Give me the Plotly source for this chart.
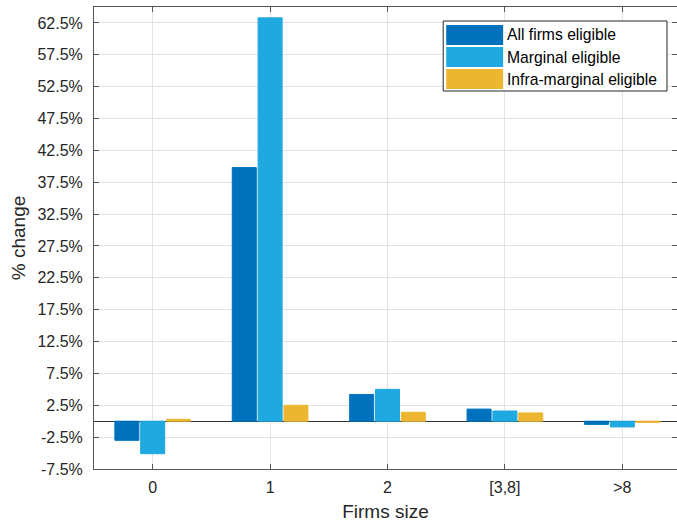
import plotly.graph_objects as go

categories = ["0", "1", "2", "[3,8]", ">8"]
all_firms = [-3.0, 39.8, 4.2, 1.9, -0.5]
marginal = [-5.1, 63.3, 5.0, 1.6, -0.9]
infra_marginal = [0.3, 2.5, 1.4, 1.3, -0.2]

series_names = ["All firms eligible", "Marginal eligible", "Infra-marginal eligible"]
colors = ["#0072BD", "#1EA9E0", "#EDB631"]

y_ticks = [-7.5 + 5 * i for i in range(15)]
y_ticktext = [f"{v:g}%" for v in y_ticks]

W, H = 677, 524
ML, MR, MT, MB = 93.5, 0, 7, 55
PW, PH = W - ML - MR, H - MT - MB


def px_x(px):
    return (px - ML) / PW


def px_y(py):
    return 1 - (py - MT) / PH


fig = go.Figure()
for name, vals, col in zip(series_names, [all_firms, marginal, infra_marginal], colors):
    fig.add_trace(go.Bar(
        x=categories, y=vals, name=name,
        marker=dict(color=col, line=dict(color=col, width=1)),
        showlegend=False,
    ))

font_family = "Liberation Sans, Arial, sans-serif"
axis_col = "#262626"

# legend drawn as a MATLAB-style box with wide swatches
shapes = [dict(type="rect", xref="paper", yref="paper",
               x0=px_x(443), x1=px_x(667), y0=px_y(91), y1=px_y(21),
               fillcolor="white", line=dict(color=axis_col, width=1), layer="above")]
annotations = []
for i, (name, col) in enumerate(zip(series_names, colors)):
    top = 25 + i * 22
    shapes.append(dict(type="rect", xref="paper", yref="paper",
                       x0=px_x(446), x1=px_x(503), y0=px_y(top + 20), y1=px_y(top),
                       fillcolor=col, line=dict(width=0), layer="above"))
    annotations.append(dict(text=name, xref="paper", yref="paper",
                            x=px_x(505), y=px_y(top + 10), xanchor="left", yanchor="middle",
                            showarrow=False, font=dict(size=15.7, color="#000000")))

fig.update_layout(
    width=W, height=H,
    margin=dict(l=ML, r=MR, t=MT, b=MB),
    paper_bgcolor="white", plot_bgcolor="white",
    barmode="group", bargap=0.34, bargroupgap=0.07,
    font=dict(family=font_family, color=axis_col, size=15),
    showlegend=False,
    shapes=shapes,
    annotations=annotations,
    xaxis=dict(
        type="category", range=[-0.5, 4.466],
        showgrid=True, gridcolor="#E3E3E3", gridwidth=1,
        showline=True, linecolor="#555555", linewidth=1, mirror="ticks",
        ticks="inside", ticklen=5, tickcolor="#555555",
        tickfont=dict(size=16), ticklabelstandoff=4,
        title=dict(text="Firms size", font=dict(size=19), standoff=9),
        zeroline=False,
    ),
    yaxis=dict(
        range=[-7.5, 65],
        tickvals=y_ticks, ticktext=y_ticktext,
        showgrid=True, gridcolor="#E3E3E3", gridwidth=1,
        showline=True, linecolor="#555555", linewidth=1, mirror="ticks",
        ticks="inside", ticklen=5, tickcolor="#555555",
        tickfont=dict(size=16), ticklabelstandoff=7,
        title=dict(text="% change", font=dict(size=19), standoff=6),
        zeroline=True, zerolinecolor="#333333", zerolinewidth=1,
    ),
)

fig.write_html(
    "out.html",
    config={"displayModeBar": False},
    post_script="document.body.style.margin='0';document.body.style.overflow='hidden';",
)
